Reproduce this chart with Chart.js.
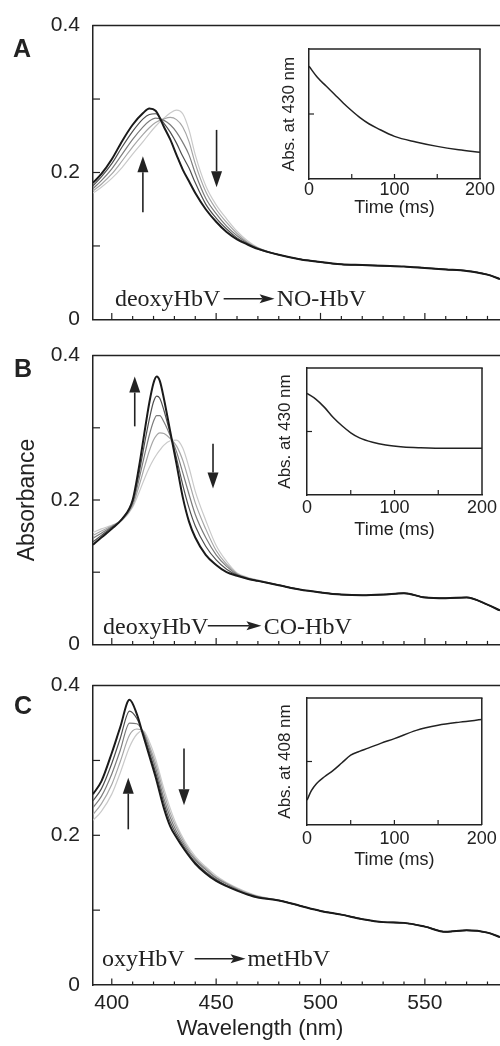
<!DOCTYPE html>
<html><head><meta charset="utf-8">
<script src="https://cdn.jsdelivr.net/npm/chart.js@4/dist/chart.umd.min.js"></script>
<style>
html,body{margin:0;padding:0;background:#fff;overflow:hidden;width:500px;height:1046px;}
#wrap{position:relative;width:500px;height:1046px;background:#fff;}
canvas{position:absolute;}
</style></head><body><div id="wrap">
<canvas id="mA" width="500" height="345" style="left:0;top:0"></canvas>
<canvas id="mB" width="500" height="340" style="left:0;top:330px"></canvas>
<canvas id="mC" width="500" height="386" style="left:0;top:660px"></canvas>
<canvas id="iA" width="230" height="190" style="left:270px;top:35px"></canvas>
<canvas id="iB" width="232" height="190" style="left:268px;top:355px"></canvas>
<canvas id="iC" width="232" height="190" style="left:268px;top:685px"></canvas>
</div>
<script>
// ---------- data ----------
const wavelengthTicks = [400, 450, 500, 550];
const wavelengthMinor = [410, 420, 430, 440, 460, 470, 480, 490, 510, 520, 530, 540, 560, 570, 580];
const absTicks = [0, 0.2, 0.4];
const absMarks = [0.1, 0.2, 0.3];
const timeTicks = [0, 100, 200];
const timeMarks = [50, 100, 150];
const insetMarks = [0.5];

const tailWave = [480, 490, 500, 510, 520, 530, 540, 550, 560, 570, 580, 586];

// Panel A: deoxyHbV -> NO-HbV
const waveA = [391, 395, 400, 405, 410, 415, 418, 421, 425, 428, 431, 434, 437, 440, 445, 450, 455, 460, 465, 470];
const A0 = [0.172, 0.180, 0.192, 0.207, 0.225, 0.242, 0.253, 0.263, 0.274, 0.281, 0.285, 0.280, 0.258, 0.224, 0.182, 0.156, 0.137, 0.120, 0.107, 0.098];
const A1 = [0.175, 0.184, 0.198, 0.216, 0.235, 0.252, 0.261, 0.268, 0.273, 0.275, 0.272, 0.262, 0.242, 0.212, 0.174, 0.150, 0.132, 0.117, 0.105, 0.097];
const A2 = [0.178, 0.189, 0.205, 0.225, 0.245, 0.262, 0.270, 0.274, 0.271, 0.265, 0.255, 0.241, 0.224, 0.199, 0.165, 0.144, 0.127, 0.114, 0.104, 0.097];
const A3 = [0.182, 0.194, 0.212, 0.235, 0.256, 0.273, 0.279, 0.280, 0.267, 0.255, 0.240, 0.222, 0.206, 0.186, 0.157, 0.138, 0.123, 0.111, 0.103, 0.096];
const A4 = [0.186, 0.198, 0.218, 0.243, 0.265, 0.281, 0.287, 0.284, 0.262, 0.245, 0.224, 0.204, 0.188, 0.172, 0.150, 0.133, 0.119, 0.109, 0.102, 0.096];
const tailA = [0.088, 0.082, 0.078, 0.075, 0.074, 0.073, 0.072, 0.070, 0.068, 0.066, 0.061, 0.055];

// Panel B: deoxyHbV -> CO-HbV
const waveB = [391, 395, 400, 405, 410, 413, 416, 418, 420, 421.5, 423, 425, 428, 431, 434, 437, 440, 445, 450, 455, 460, 465, 470];
const B0 = [0.155, 0.160, 0.165, 0.172, 0.190, 0.210, 0.232, 0.245, 0.256, 0.263, 0.269, 0.276, 0.282, 0.283, 0.272, 0.245, 0.212, 0.172, 0.137, 0.115, 0.099, 0.093, 0.089];
const B1 = [0.151, 0.157, 0.164, 0.173, 0.192, 0.219, 0.249, 0.268, 0.283, 0.290, 0.293, 0.292, 0.285, 0.275, 0.255, 0.226, 0.196, 0.160, 0.130, 0.111, 0.098, 0.092, 0.089];
const B2 = [0.147, 0.154, 0.163, 0.173, 0.195, 0.228, 0.266, 0.290, 0.309, 0.317, 0.317, 0.308, 0.289, 0.267, 0.238, 0.208, 0.180, 0.148, 0.124, 0.108, 0.097, 0.092, 0.088];
const B3 = [0.142, 0.151, 0.162, 0.174, 0.198, 0.236, 0.283, 0.312, 0.336, 0.344, 0.341, 0.324, 0.292, 0.258, 0.221, 0.189, 0.164, 0.136, 0.117, 0.104, 0.096, 0.091, 0.088];
const B4 = [0.138, 0.148, 0.160, 0.174, 0.200, 0.245, 0.300, 0.335, 0.362, 0.371, 0.365, 0.340, 0.295, 0.250, 0.204, 0.170, 0.148, 0.124, 0.110, 0.100, 0.095, 0.091, 0.088];
const tailB = [0.082, 0.076, 0.072, 0.069, 0.068, 0.069, 0.071, 0.065, 0.064, 0.065, 0.055, 0.047];

// Panel C: oxyHbV -> metHbV
const waveC = [391, 395, 400, 404, 408.5, 412, 415, 418, 421, 425, 428, 431, 435, 440, 445, 450, 455, 460, 465, 470];
const C0 = [0.220, 0.232, 0.255, 0.283, 0.318, 0.335, 0.340, 0.325, 0.302, 0.262, 0.236, 0.214, 0.192, 0.172, 0.158, 0.146, 0.137, 0.130, 0.124, 0.119];
const C1 = [0.228, 0.242, 0.268, 0.298, 0.334, 0.342, 0.339, 0.320, 0.296, 0.256, 0.230, 0.210, 0.189, 0.169, 0.156, 0.144, 0.136, 0.129, 0.123, 0.118];
const C2 = [0.237, 0.252, 0.282, 0.313, 0.350, 0.349, 0.338, 0.316, 0.290, 0.249, 0.224, 0.205, 0.186, 0.167, 0.154, 0.143, 0.135, 0.128, 0.122, 0.118];
const C3 = [0.246, 0.262, 0.296, 0.329, 0.366, 0.356, 0.336, 0.311, 0.284, 0.243, 0.218, 0.201, 0.183, 0.164, 0.151, 0.141, 0.133, 0.127, 0.121, 0.117];
const C4 = [0.255, 0.272, 0.310, 0.344, 0.381, 0.362, 0.334, 0.306, 0.278, 0.236, 0.212, 0.197, 0.180, 0.162, 0.149, 0.139, 0.132, 0.126, 0.121, 0.117];
const tailC = [0.113, 0.106, 0.099, 0.094, 0.088, 0.084, 0.083, 0.078, 0.071, 0.073, 0.070, 0.064];

// Insets (absorbance, arbitrary units vs time in ms)
const timeA = [0, 10, 20, 30, 40, 50, 60, 70, 80, 100, 125, 150, 175, 200];
const kinA  = [0.867, 0.78, 0.715, 0.65, 0.585, 0.525, 0.47, 0.425, 0.39, 0.328, 0.285, 0.251, 0.225, 0.205];
const timeB = [0, 10, 20, 30, 40, 50, 60, 75, 90, 110, 130, 160, 200];
const kinB  = [0.80, 0.755, 0.69, 0.61, 0.545, 0.49, 0.45, 0.415, 0.393, 0.378, 0.372, 0.368, 0.368];
const timeC = [0, 5, 11, 20, 30, 40, 50, 60, 70, 85, 100, 125, 150, 175, 200];
const kinC  = [0.196, 0.27, 0.327, 0.38, 0.43, 0.49, 0.55, 0.58, 0.605, 0.645, 0.68, 0.745, 0.785, 0.81, 0.83];

// ---------- styling ----------
const INK = '#222';
const curveColors = ['#1a1a1a', '#4f4f4f', '#7c7c7c', '#a6a6a6', '#cacaca'];
const curveWidths = [2, 1.2, 1.2, 1.2, 1.2];
Chart.defaults.font.family = '"Liberation Sans", Arial, sans-serif';
Chart.defaults.color = INK;

const deco = {
  id: 'deco',
  afterDatasetsDraw(chart, args, o) {
    const {ctx, chartArea: a, scales: {x, y}} = chart;
    ctx.save();
    ctx.strokeStyle = INK; ctx.fillStyle = INK; ctx.lineWidth = 1.5;
    const line = (x0, y0, x1, y1) => { ctx.beginPath(); ctx.moveTo(x0, y0); ctx.lineTo(x1, y1); ctx.stroke(); };
    if (o.frameTop) line(a.left - 0.75, a.top, a.right + 0.75, a.top);
    if (o.frameRight) line(a.right, a.top, a.right, a.bottom);
    ctx.lineWidth = 1.2;
    (o.xMinor || []).forEach(v => { const p = x.getPixelForValue(v); line(p, a.bottom, p, a.bottom - o.minorLen); });
    (o.xMajor || []).forEach(v => { const p = x.getPixelForValue(v); line(p, a.bottom, p, a.bottom - o.majorLen); });
    (o.yMarks || []).forEach(v => { const p = y.getPixelForValue(v); line(a.left, p, a.left + o.yLen, p); });
    ctx.lineWidth = 1.6;
    (o.arrows || []).forEach(ar => {
      const px = x.getPixelForValue(ar.x), p0 = y.getPixelForValue(ar.from), p1 = y.getPixelForValue(ar.to);
      const dir = p1 < p0 ? -1 : 1, hl = 16, hw = 5.5;
      line(px, p0, px, p1 - dir * hl);
      ctx.beginPath(); ctx.moveTo(px, p1); ctx.lineTo(px - hw, p1 - dir * hl); ctx.lineTo(px + hw, p1 - dir * hl); ctx.closePath(); ctx.fill();
    });
    if (o.reaction) {
      const r = o.reaction;
      ctx.font = '24px "Liberation Serif", "Times New Roman", serif';
      ctx.textBaseline = 'alphabetic'; ctx.textAlign = 'left';
      const by = y.getPixelForValue(r.base), ay = y.getPixelForValue(r.ay);
      ctx.fillText(r.t1, x.getPixelForValue(r.x1), by);
      ctx.fillText(r.t2, x.getPixelForValue(r.x2), by);
      const a0 = x.getPixelForValue(r.a0), a1 = x.getPixelForValue(r.a1);
      ctx.lineWidth = 1.5;
      line(a0, ay, a1 - 12, ay);
      ctx.beginPath(); ctx.moveTo(a1, ay); ctx.lineTo(a1 - 15, ay - 4.5); ctx.lineTo(a1 - 12, ay); ctx.lineTo(a1 - 15, ay + 4.5); ctx.closePath(); ctx.fill();
    }
    if (o.letter) {
      ctx.font = 'bold 25px "Liberation Sans", Arial, sans-serif';
      ctx.textAlign = 'center'; ctx.textBaseline = 'middle';
      ctx.fillText(o.letter.text, o.letter.x, o.letter.y);
    }
    ctx.restore();
  }
};
Chart.register(deco);

function series(wave, vals, tailV) {
  return wave.map((w, i) => ({x: w, y: vals[i]})).concat(tailWave.map((w, i) => ({x: w, y: tailV[i]})));
}

function mainChart(id, wave, curves, tailV, opt) {
  new Chart(document.getElementById(id), {
    type: 'line',
    data: {datasets: curves.map((c, i) => ({
      data: series(wave, c, tailV),
      borderColor: curveColors[i], borderWidth: curveWidths[i],
      pointRadius: 0, fill: false, cubicInterpolationMode: 'monotone'
    }))},
    options: {
      responsive: false, animation: false, devicePixelRatio: 1,
      layout: {padding: opt.padding},
      plugins: {
        legend: {display: false}, tooltip: {enabled: false},
        title: opt.title || {display: false},
        deco: Object.assign({frameTop: true, xMinor: wavelengthMinor, xMajor: wavelengthTicks, minorLen: 3.5, majorLen: 6.5, yMarks: absMarks, yLen: 7}, opt.deco)
      },
      scales: {
        x: {
          type: 'linear', min: 391, max: 586,
          grid: {display: false, drawTicks: false},
          border: {display: true, color: INK, width: 1.5},
          ticks: {display: opt.xLabels, padding: 6, font: {size: 21}, color: INK},
          afterBuildTicks: s => { s.ticks = wavelengthTicks.map(v => ({value: v})); },
          afterFit: s => { s.height = opt.xHeight; }
        },
        y: {
          type: 'linear', min: 0, max: 0.4,
          grid: {display: false, drawTicks: false},
          border: {display: true, color: INK, width: 1.5},
          ticks: {padding: 13, font: {size: 21}, color: INK, callback: v => v === 0 ? '0' : v.toFixed(1)},
          afterBuildTicks: s => { s.ticks = absTicks.map(v => ({value: v})); },
          afterFit: s => { s.width = opt.yWidth; },
          title: opt.yTitle || {display: false}
        }
      }
    }
  });
}

function insetChart(id, t, v, label, opt) {
  new Chart(document.getElementById(id), {
    type: 'line',
    data: {datasets: [{data: t.map((x, i) => ({x: x, y: v[i]})), borderColor: INK, borderWidth: 1.5, pointRadius: 0, fill: false, cubicInterpolationMode: 'monotone'}]},
    options: {
      responsive: false, animation: false, devicePixelRatio: 1,
      layout: {padding: {top: opt.top, right: opt.right, left: 0, bottom: 0}},
      plugins: {
        legend: {display: false}, tooltip: {enabled: false},
        deco: {frameTop: true, frameRight: true, xMajor: timeMarks, majorLen: 5, yMarks: insetMarks, yLen: 5}
      },
      scales: {
        x: {
          type: 'linear', min: 0, max: 200,
          grid: {display: false, drawTicks: false},
          border: {display: true, color: INK, width: 1.5},
          ticks: {padding: opt.tickPad, font: {size: 18}, color: INK},
          afterBuildTicks: s => { s.ticks = timeTicks.map(x => ({value: x})); },
          afterFit: s => { s.height = opt.xh; },
          title: {display: true, text: 'Time (ms)', font: {size: 18}, color: INK, padding: {top: 0, bottom: opt.tb}}
        },
        y: {
          type: 'linear', min: 0, max: 1,
          grid: {display: false, drawTicks: false},
          border: {display: true, color: INK, width: 1.5},
          ticks: {display: false},
          afterFit: s => { s.width = 39; },
          title: {display: true, text: label, font: {size: 17}, color: INK, padding: {top: opt.yt, bottom: 0}}
        }
      }
    }
  });
}

mainChart('mA', waveA, [A4, A3, A2, A1, A0], tailA, {
  padding: {top: 23, left: 0, right: 0, bottom: 0}, xLabels: false, xHeight: 15, yWidth: 93,
  deco: {
    arrows: [{x: 414.9, from: 0.146, to: 0.222}, {x: 450.2, from: 0.258, to: 0.180}],
    reaction: {t1: 'deoxyHbV', x1: 401.5, a0: 453.6, a1: 478, t2: 'NO-HbV', x2: 479, base: 0.018, ay: 0.028},
    letter: {text: 'A', x: 22, y: 50}
  }
});
mainChart('mB', waveB, [B4, B3, B2, B1, B0], tailB, {
  padding: {top: 15, left: 0, right: 0, bottom: 0}, xLabels: false, xHeight: 16, yWidth: 93,
  yTitle: {display: true, text: 'Absorbance', font: {size: 23}, color: INK, padding: {top: 14, bottom: 0}},
  deco: {
    arrows: [{x: 411, from: 0.302, to: 0.371}, {x: 448.5, from: 0.278, to: 0.216}],
    reaction: {t1: 'deoxyHbV', x1: 395.8, a0: 446, a1: 471.7, t2: 'CO-HbV', x2: 472.8, base: 0.015, ay: 0.026},
    letter: {text: 'B', x: 23, y: 40}
  }
});
mainChart('mC', waveC, [C4, C3, C2, C1, C0], tailC, {
  padding: {top: 17, left: 20, right: 0, bottom: 0}, xLabels: true, xHeight: 30.8, yWidth: 73,
  title: {display: true, position: 'bottom', text: 'Wavelength (nm)', font: {size: 22, weight: 'normal'}, color: INK, padding: {top: 0, bottom: 3.8}},
  deco: {
    arrows: [{x: 407.9, from: 0.208, to: 0.277}, {x: 434.6, from: 0.316, to: 0.240}],
    reaction: {t1: 'oxyHbV', x1: 395.3, a0: 439.7, a1: 464.1, t2: 'metHbV', x2: 465, base: 0.025, ay: 0.035},
    letter: {text: 'C', x: 23, y: 47}
  }
});

insetChart('iA', timeA, kinA, 'Abs. at 430 nm', {top: 14, right: 20, xh: 46, tickPad: 0, tb: 5.7, yt: 9.3});
insetChart('iB', timeB, kinB, 'Abs. at 430 nm', {top: 13, right: 18, xh: 50, tickPad: 2.7, tb: 4.2, yt: 7.6});
insetChart('iC', timeC, kinC, 'Abs. at 408 nm', {top: 13, right: 18, xh: 50, tickPad: 3.2, tb: 4.2, yt: 7.6});
</script>
</body></html>
